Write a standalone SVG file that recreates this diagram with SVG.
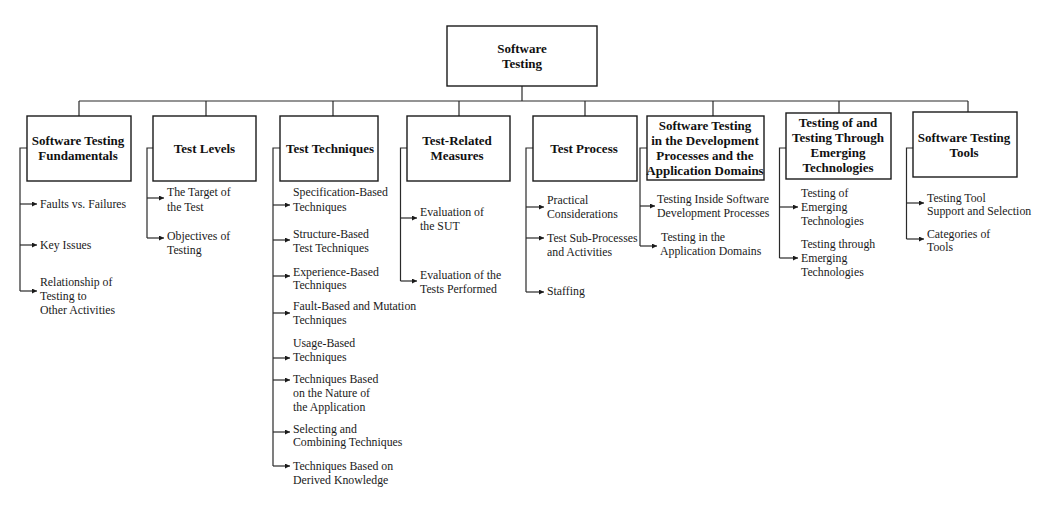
<svg xmlns="http://www.w3.org/2000/svg" width="1060" height="509" viewBox="0 0 1060 509">
<style>
.bg{fill:#ffffff}
.box{fill:#ffffff;stroke:#1a1a1a;stroke-width:1.4}
.ln{fill:none;stroke:#2a2a2a;stroke-width:1.2}
.ar{fill:none;stroke:#2a2a2a;stroke-width:1.2;marker-end:url(#ah)}
.h{font-family:"Liberation Serif","Times New Roman",serif;font-weight:bold;font-size:13px;fill:#111;text-anchor:middle}
.t{font-family:"Liberation Serif","Times New Roman",serif;font-size:11.8px;fill:#1a1a1a}
</style>
<defs>
<marker id="ah" markerUnits="userSpaceOnUse" markerWidth="6" markerHeight="6" refX="5" refY="2.5" orient="auto">
<path d="M0,0 L5,2.5 L0,5 z" fill="#1a1a1a"/>
</marker>
</defs>
<rect class="bg" x="0" y="0" width="1060" height="509"/>

<g id="connectors">
<path class="ln" d="M522,86 V101 M79,101 H968 M79,101 V116 M206,101 V116 M333,101 V116 M459,101 V116 M585,101 V116 M713,101 V116 M839,101 V113 M968,101 V112"/>
<!-- group 1 -->
<path class="ln" d="M27,148 H20 V291"/>
<path class="ar" d="M20,204 H37"/>
<path class="ar" d="M20,245 H37"/>
<path class="ar" d="M20,291 H37"/>
<!-- group 2 -->
<path class="ln" d="M153,148 H147 V238"/>
<path class="ar" d="M147,198 H164"/>
<path class="ar" d="M147,238 H164"/>
<!-- group 3 -->
<path class="ln" d="M280,148 H273 V466"/>
<path class="ar" d="M273,205 H290"/>
<path class="ar" d="M273,240 H290"/>
<path class="ar" d="M273,276 H290"/>
<path class="ar" d="M273,313 H290"/>
<path class="ar" d="M273,358 H290"/>
<path class="ar" d="M273,380 H290"/>
<path class="ar" d="M273,432 H290"/>
<path class="ar" d="M273,466 H290"/>
<!-- group 4 -->
<path class="ln" d="M407,148 H400.5 V281"/>
<path class="ar" d="M400.5,218 H417"/>
<path class="ar" d="M400.5,281 H417"/>
<!-- group 5 -->
<path class="ln" d="M533,148 H526 V292"/>
<path class="ar" d="M526,207 H544"/>
<path class="ar" d="M526,238 H544"/>
<path class="ar" d="M526,292 H544"/>
<!-- group 6 -->
<path class="ln" d="M647,148 H640 V246"/>
<path class="ar" d="M640,206 H655"/>
<path class="ar" d="M640,246 H657"/>
<!-- group 7 -->
<path class="ln" d="M786,148 H779.5 V258"/>
<path class="ar" d="M779.5,207 H798"/>
<path class="ar" d="M779.5,258 H798"/>
<!-- group 8 -->
<path class="ln" d="M913,148 H906.5 V239"/>
<path class="ar" d="M906.5,203 H924"/>
<path class="ar" d="M906.5,239 H924"/>
</g>

<g id="root">
<rect class="box" x="447" y="26" width="150" height="60"/>
<text class="h" x="522" y="53">Software</text>
<text class="h" x="522" y="68">Testing</text>
</g>

<g id="fundamentals">
<rect class="box" x="27" y="116" width="104" height="65"/>
<text class="h" x="78" y="145">Software Testing</text>
<text class="h" x="78" y="160">Fundamentals</text>
<text class="t" x="40" y="208">Faults vs. Failures</text>
<text class="t" x="40" y="249">Key Issues</text>
<text class="t" x="40" y="286">Relationship of</text>
<text class="t" x="40" y="300">Testing to</text>
<text class="t" x="40" y="314">Other Activities</text>
</g>

<g id="test-levels">
<rect class="box" x="153" y="116" width="103" height="65"/>
<text class="h" x="204.5" y="152.5">Test Levels</text>
<text class="t" x="167" y="196">The Target of</text>
<text class="t" x="167" y="211">the Test</text>
<text class="t" x="167" y="240">Objectives of</text>
<text class="t" x="167" y="254">Testing</text>
</g>

<g id="test-techniques">
<rect class="box" x="280" y="116" width="98" height="65"/>
<text class="h" x="330" y="152.5">Test Techniques</text>
<text class="t" x="293" y="196">Specification-Based</text>
<text class="t" x="293" y="211">Techniques</text>
<text class="t" x="293" y="238">Structure-Based</text>
<text class="t" x="293" y="252">Test Techniques</text>
<text class="t" x="293" y="276">Experience-Based</text>
<text class="t" x="293" y="289">Techniques</text>
<text class="t" x="293" y="310">Fault-Based and Mutation</text>
<text class="t" x="293" y="324">Techniques</text>
<text class="t" x="293" y="347">Usage-Based</text>
<text class="t" x="293" y="361">Techniques</text>
<text class="t" x="293" y="383">Techniques Based</text>
<text class="t" x="293" y="397">on the Nature of</text>
<text class="t" x="293" y="411">the Application</text>
<text class="t" x="293" y="433">Selecting and</text>
<text class="t" x="293" y="446">Combining Techniques</text>
<text class="t" x="293" y="470">Techniques Based on</text>
<text class="t" x="293" y="484">Derived Knowledge</text>
</g>

<g id="test-measures">
<rect class="box" x="407" y="116" width="103" height="65"/>
<text class="h" x="457" y="145">Test-Related</text>
<text class="h" x="457" y="160">Measures</text>
<text class="t" x="420" y="216">Evaluation of</text>
<text class="t" x="420" y="230">the SUT</text>
<text class="t" x="420" y="279">Evaluation of the</text>
<text class="t" x="420" y="293">Tests Performed</text>
</g>

<g id="test-process">
<rect class="box" x="533" y="116" width="104" height="65"/>
<text class="h" x="584" y="152.5">Test Process</text>
<text class="t" x="547" y="204">Practical</text>
<text class="t" x="547" y="218">Considerations</text>
<text class="t" x="547" y="242">Test Sub-Processes</text>
<text class="t" x="547" y="256">and Activities</text>
<text class="t" x="547" y="295">Staffing</text>
</g>

<g id="dev-processes">
<rect class="box" x="647" y="116" width="117" height="64"/>
<text class="h" x="705" y="129.5">Software Testing</text>
<text class="h" x="705" y="145">in the Development</text>
<text class="h" x="705" y="160">Processes and the</text>
<text class="h" x="705" y="174.5">Application Domains</text>
<text class="t" x="657" y="203">Testing Inside Software</text>
<text class="t" x="657" y="217">Development Processes</text>
<text class="t" x="661" y="241">Testing in the</text>
<text class="t" x="660" y="255">Application Domains</text>
</g>

<g id="emerging">
<rect class="box" x="786" y="113" width="105" height="66"/>
<text class="h" x="838" y="127">Testing of and</text>
<text class="h" x="838" y="142">Testing Through</text>
<text class="h" x="838" y="157">Emerging</text>
<text class="h" x="838" y="171.5">Technologies</text>
<text class="t" x="801" y="197">Testing of</text>
<text class="t" x="801" y="211">Emerging</text>
<text class="t" x="801" y="225">Technologies</text>
<text class="t" x="801" y="248">Testing through</text>
<text class="t" x="801" y="262">Emerging</text>
<text class="t" x="801" y="276">Technologies</text>
</g>

<g id="tools">
<rect class="box" x="913" y="112" width="104" height="65"/>
<text class="h" x="964" y="142">Software Testing</text>
<text class="h" x="964" y="157">Tools</text>
<text class="t" x="927" y="202">Testing Tool</text>
<text class="t" x="927" y="215">Support and Selection</text>
<text class="t" x="927" y="238">Categories of</text>
<text class="t" x="927" y="251">Tools</text>
</g>
</svg>
